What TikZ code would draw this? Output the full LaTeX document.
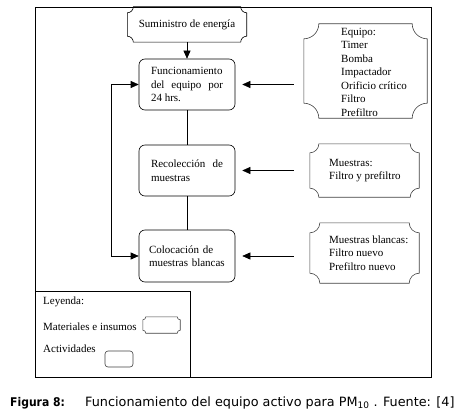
\documentclass[tikz,border=0pt]{standalone}
\usepackage{fontspec}
\setmainfont{Liberation Serif}
\newfontfamily\capfont{DejaVu Sans}
\newfontfamily\figfont{DejaVu Sans Condensed}
\usetikzlibrary{arrows.meta,positioning}
\hyphenpenalty=10000
\tolerance=10000

\tikzset{plq/.style={draw=black!75, line width=0.6pt}}
% frame with concave corners round a node
\newcommand{\plaqueframe}[3][]{%
  \draw[plq,#1] ([xshift=#2]#3.north west) -- ([xshift=-#2]#3.north east)
    arc[start angle=180,end angle=270,radius=#2]
    -- ([yshift=#2]#3.south east)
    arc[start angle=90,end angle=180,radius=#2]
    -- ([xshift=#2]#3.south west)
    arc[start angle=0,end angle=90,radius=#2]
    -- ([yshift=-#2]#3.north west)
    arc[start angle=270,end angle=360,radius=#2] -- cycle;}

\begin{document}
\begin{tikzpicture}[x=1pt,y=1pt,
  font=\fontsize{11}{13.5}\selectfont,
  act/.style={draw, rounded corners=6pt, line width=0.6pt, minimum height=51pt, inner xsep=12pt, inner ysep=1pt, text width=72pt, align=justify},
  matbox/.style={inner sep=0pt},
  mat/.style={inner sep=0pt, anchor=west, align=left},
  ln/.style={line width=0.6pt},
  arr/.style={-{Triangle[length=8pt,width=7pt]}, line width=0.6pt},
  dbl/.style={{Triangle[length=8pt,width=7pt]}-{Triangle[length=8pt,width=7pt]}, line width=0.6pt}
]
\useasboundingbox (0,0) rectangle (468,416);
\draw[ln] (35,39) rectangle (431,409);
\draw[ln] (35,39) rectangle (190,125);

% activities
\node[inner sep=0pt, minimum width=119pt, minimum height=35pt] (sum) at (187,391.5) {Suministro de energía};
\plaqueframe[draw=black]{6pt}{sum}
\node[act] (func) at (187,331.5) {Funcionamiento del equipo por 24 hrs.};
\node[act] (reco) at (187,245.5) {Recolección de muestras};
\node[act, align=left, text width=76pt, inner xsep=10pt, minimum height=52pt] (colo) at (187,160) {Colocación de\\ muestras blancas};

% materials
\node[matbox, minimum width=123pt, minimum height=94pt] (eqp) at (365.5,345) {};
\plaqueframe{15pt}{eqp}
\node[mat] (eqptxt) at (341,344) {Equipo:\\ Timer\\ Bomba\\ Impactador\\ Orificio crítico\\ Filtro\\ Prefiltro};
\node[matbox, minimum width=109pt, minimum height=53pt] (mue) at (364.5,245.5) {};
\plaqueframe{9pt}{mue}
\node[mat] (muetxt) at (329,245.5) {Muestras:\\ Filtro y prefiltro};
\node[matbox, minimum width=109pt, minimum height=60pt] (mbl) at (364.5,163) {};
\plaqueframe{10pt}{mbl}
\node[mat] (mbltxt) at (329,163) {Muestras blancas:\\ Filtro nuevo\\ Prefiltro nuevo};

\draw[arr] (sum) -- (func);
\draw[ln] (func) -- (reco);
\draw[ln] (reco) -- (colo);
\draw[dbl] (func.west) -- ++(-27,0) |- (colo.west);
\draw[arr, shorten <=10pt, shorten >=7pt] (eqp.west |- func.east) -- (func.east);
\draw[arr, shorten <=16pt, shorten >=7pt] (mue.west |- reco.east) -- (reco.east);
\draw[arr, shorten <=16pt, shorten >=7pt] (mbl.west |- colo.east) -- (colo.east);

% legend
\node[anchor=west, inner sep=0pt] (ley) at (43,114) {Leyenda:};
\node[anchor=west, inner sep=0pt] (matlbl) at (43,89) {Materiales e insumos};
\node[matbox, minimum width=37pt, minimum height=16pt] (matsmp) at (161.5,91) {};
\plaqueframe{3pt}{matsmp}
\node[anchor=west, inner sep=0pt] (actlbl) at (43,67) {Actividades};
\node[draw=black!75, line width=0.6pt, rounded corners=3pt, inner sep=0pt, minimum width=28pt, minimum height=16pt] (actsmp) at (119,57) {};

% caption
\node[anchor=base west, inner sep=0pt, font=\figfont\bfseries\fontsize{12}{14}\selectfont] (fig) at (10,10) {Figura 8:};
\node[anchor=base west, inner sep=0pt, font=\capfont\fontsize{12.8}{15}\selectfont] (cap) at (85,10) {Funcionamiento del equipo activo para PM\textsubscript{10} . Fuente: [4]};
\end{tikzpicture}
\end{document}
